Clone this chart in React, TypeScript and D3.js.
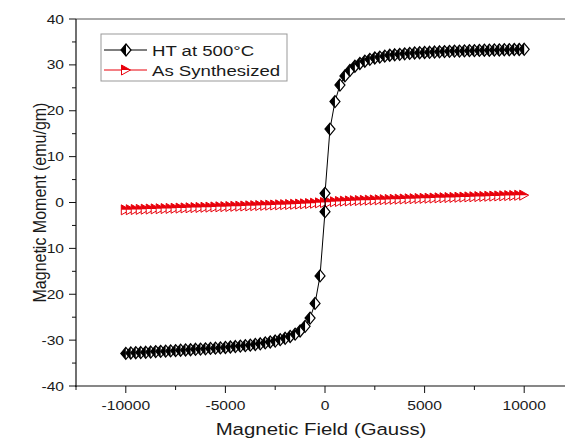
import React from "react";
import * as d3 from "d3";

// magnetisation curves
const htField = [
  -10000, -9750, -9500, -9250, -9000, -8750, -8500, -8250, -8000, -7750,
  -7500, -7250, -7000, -6750, -6500, -6250, -6000, -5750, -5500, -5250,
  -5000, -4750, -4500, -4250, -4000, -3750, -3500, -3250, -3000, -2750,
  -2500, -2250, -2000, -1750, -1500, -1250, -1000, -750, -500, -250,
  0, 0,
  250, 500, 750, 1000, 1250, 1500, 1750, 2000, 2250, 2500,
  2750, 3000, 3250, 3500, 3750, 4000, 4250, 4500, 4750, 5000,
  5250, 5500, 5750, 6000, 6250, 6500, 6750, 7000, 7250, 7500,
  7750, 8000, 8250, 8500, 8750, 9000, 9250, 9500, 9750, 10000,
];
const htMoment = [
  -32.9, -32.8, -32.75, -32.7, -32.65, -32.6, -32.5, -32.45, -32.4, -32.35,
  -32.3, -32.2, -32.15, -32.1, -32.0, -31.95, -31.9, -31.8, -31.75, -31.7,
  -31.6, -31.5, -31.4, -31.3, -31.2, -31.1, -30.95, -30.8, -30.6, -30.4,
  -30.2, -29.9, -29.6, -29.2, -28.7, -28.0, -27.0, -25.2, -22.0, -16.0,
  -2, 2,
  16, 22, 25.6, 27.6, 28.8, 29.7, 30.3, 30.8, 31.2, 31.5,
  31.7, 31.9, 32.1, 32.2, 32.3, 32.4, 32.5, 32.6, 32.65, 32.7,
  32.75, 32.8, 32.85, 32.9, 32.95, 33.0, 33.0, 33.05, 33.1, 33.1,
  33.15, 33.2, 33.2, 33.25, 33.25, 33.3, 33.3, 33.35, 33.35, 33.4,
];

const asField = [
  -10000, -9750, -9500, -9250, -9000, -8750, -8500, -8250, -8000, -7750,
  -7500, -7250, -7000, -6750, -6500, -6250, -6000, -5750, -5500, -5250,
  -5000, -4750, -4500, -4250, -4000, -3750, -3500, -3250, -3000, -2750,
  -2500, -2250, -2000, -1750, -1500, -1250, -1000, -750, -500, -250,
  0,
  250, 500, 750, 1000, 1250, 1500, 1750, 2000, 2250, 2500,
  2750, 3000, 3250, 3500, 3750, 4000, 4250, 4500, 4750, 5000,
  5250, 5500, 5750, 6000, 6250, 6500, 6750, 7000, 7250, 7500,
  7750, 8000, 8250, 8500, 8750, 9000, 9250, 9500, 9750, 10000,
];
const asMoment = [
  -1.6, -1.57, -1.53, -1.5, -1.46, -1.43, -1.39, -1.36, -1.32, -1.29,
  -1.25, -1.22, -1.18, -1.15, -1.11, -1.08, -1.04, -1.01, -0.97, -0.94,
  -0.9, -0.87, -0.83, -0.8, -0.76, -0.73, -0.69, -0.66, -0.62, -0.58,
  -0.55, -0.51, -0.47, -0.43, -0.39, -0.34, -0.29, -0.23, -0.16, -0.08,
  0,
  0.08, 0.16, 0.23, 0.29, 0.34, 0.39, 0.43, 0.47, 0.51, 0.55,
  0.58, 0.62, 0.66, 0.69, 0.73, 0.76, 0.8, 0.83, 0.87, 0.9,
  0.94, 0.97, 1.01, 1.04, 1.08, 1.11, 1.15, 1.18, 1.22, 1.25,
  1.29, 1.32, 1.36, 1.39, 1.43, 1.46, 1.5, 1.53, 1.57, 1.6,
];

const xTicks = [-10000, -5000, 0, 5000, 10000];
const xMinor = [-12500, -7500, -2500, 2500, 7500, 12500];
const yTicks = [-40, -30, -20, -10, 0, 10, 20, 30, 40];
const yMinor = [-35, -25, -15, -5, 5, 15, 25, 35];

const legendNames = ["HT at 500°C", "As Synthesized"];

const font = "'Liberation Sans', Arial, sans-serif";
const sx = 1.2; // the original picture is stretched sideways

const left = 76, right = 574, top = 19, bottom = 386;

const x = d3.scaleLinear().domain([-12500, 12500]).range([left, right]);
const y = d3.scaleLinear().domain([-40, 40]).range([bottom, top]);

function Diamond({ cx, cy }: { cx: number; cy: number }) {
  const w = 5, h = 6;
  return (
    <g transform={`translate(${cx},${cy})`}>
      <path d={`M0,${-h}L${w},0L0,${h}L${-w},0Z`} fill="#fff" stroke="#000" strokeWidth={1.2} />
      <path d={`M0,${-h}L0,${h}L${-w},0Z`} fill="#000" />
    </g>
  );
}

function Tri({ cx, cy }: { cx: number; cy: number }) {
  const w = 4.5, h = 5;
  return (
    <g transform={`translate(${cx},${cy})`}>
      <path d={`M${-w},${-h}L${w},0L${-w},${h}Z`} fill="#fff" stroke="#e8000b" strokeWidth={1} />
      <path d={`M${-w},${-h}L${w},0L${-w},0Z`} fill="#e8000b" />
    </g>
  );
}

export default function App() {
  const htPts: [number, number][] = htField.map((f, i) => [x(f), y(htMoment[i])]);
  const asPts: [number, number][] = asField.map((f, i) => [x(f), y(asMoment[i])]);
  const path = d3.line();

  return (
    <svg width={565} height={442} style={{ position: "absolute", left: 0, top: 0, background: "#fff" }}
      fontFamily={font}>
      <rect width={565} height={442} fill="#fff" />

      {/* frame */}
      <line x1={left} x2={right} y1={top} y2={top} stroke="#555" strokeWidth={1} />
      <line x1={right} x2={right} y1={top} y2={bottom} stroke="#555" strokeWidth={1} />
      <line x1={left} x2={left} y1={top} y2={bottom + 1} stroke="#111" strokeWidth={1.2} />
      <line x1={left - 1} x2={right} y1={bottom} y2={bottom} stroke="#111" strokeWidth={1.2} />

      {/* x ticks */}
      {xTicks.map(t => (
        <g key={"xt" + t}>
          <line x1={x(t)} x2={x(t)} y1={bottom} y2={bottom + 7} stroke="#111" />
          <text transform={`translate(${x(t)},410) scale(${sx},1)`} textAnchor="middle" fontSize={13} fill="#1a1a1a">{t}</text>
        </g>
      ))}
      {xMinor.map(t => (
        <line key={"xm" + t} x1={x(t)} x2={x(t)} y1={bottom} y2={bottom + 4} stroke="#111" />
      ))}

      {/* y ticks */}
      {yTicks.map(t => (
        <g key={"yt" + t}>
          <line x1={left - 7} x2={left} y1={y(t)} y2={y(t)} stroke="#111" />
          <text transform={`translate(64,${y(t) + 4.5}) scale(${sx},1)`} textAnchor="end" fontSize={13} fill="#1a1a1a">{t}</text>
        </g>
      ))}
      {yMinor.map(t => (
        <line key={"ym" + t} x1={left - 4} x2={left} y1={y(t)} y2={y(t)} stroke="#111" />
      ))}

      {/* axis titles */}
      <text transform={`translate(${x(0) - 4},435) scale(${sx},1)`} textAnchor="middle" fontSize={17} fill="#1a1a1a">
        Magnetic Field (Gauss)
      </text>
      <text transform={`translate(46,${y(0)}) scale(${sx},1) rotate(-90)`} textAnchor="middle" fontSize={16} fill="#1a1a1a">
        Magnetic Moment (emu/gm)
      </text>

      {/* As Synthesized */}
      <path d={path(asPts) || ""} fill="none" stroke="#e8000b" strokeWidth={1} />
      {asPts.map((p, i) => <Tri key={"a" + i} cx={p[0]} cy={p[1]} />)}

      {/* HT at 500C */}
      <path d={path(htPts) || ""} fill="none" stroke="#000" strokeWidth={1} />
      {htPts.map((p, i) => <Diamond key={"h" + i} cx={p[0]} cy={p[1]} />)}

      {/* legend */}
      <rect x={101} y={34} width={186} height={47} fill="#fff" stroke="#999" strokeWidth={1} />
      <line x1={104} x2={147} y1={50} y2={50} stroke="#000" />
      <Diamond cx={126} cy={50} />
      <text transform={`translate(152,55.5) scale(${sx},1)`} fontSize={15.5} fill="#1a1a1a">{legendNames[0]}</text>
      <line x1={104} x2={147} y1={70} y2={70} stroke="#e8000b" />
      <Tri cx={126} cy={70} />
      <text transform={`translate(152,75.5) scale(${sx},1)`} fontSize={15.5} fill="#1a1a1a">{legendNames[1]}</text>
    </svg>
  );
}
